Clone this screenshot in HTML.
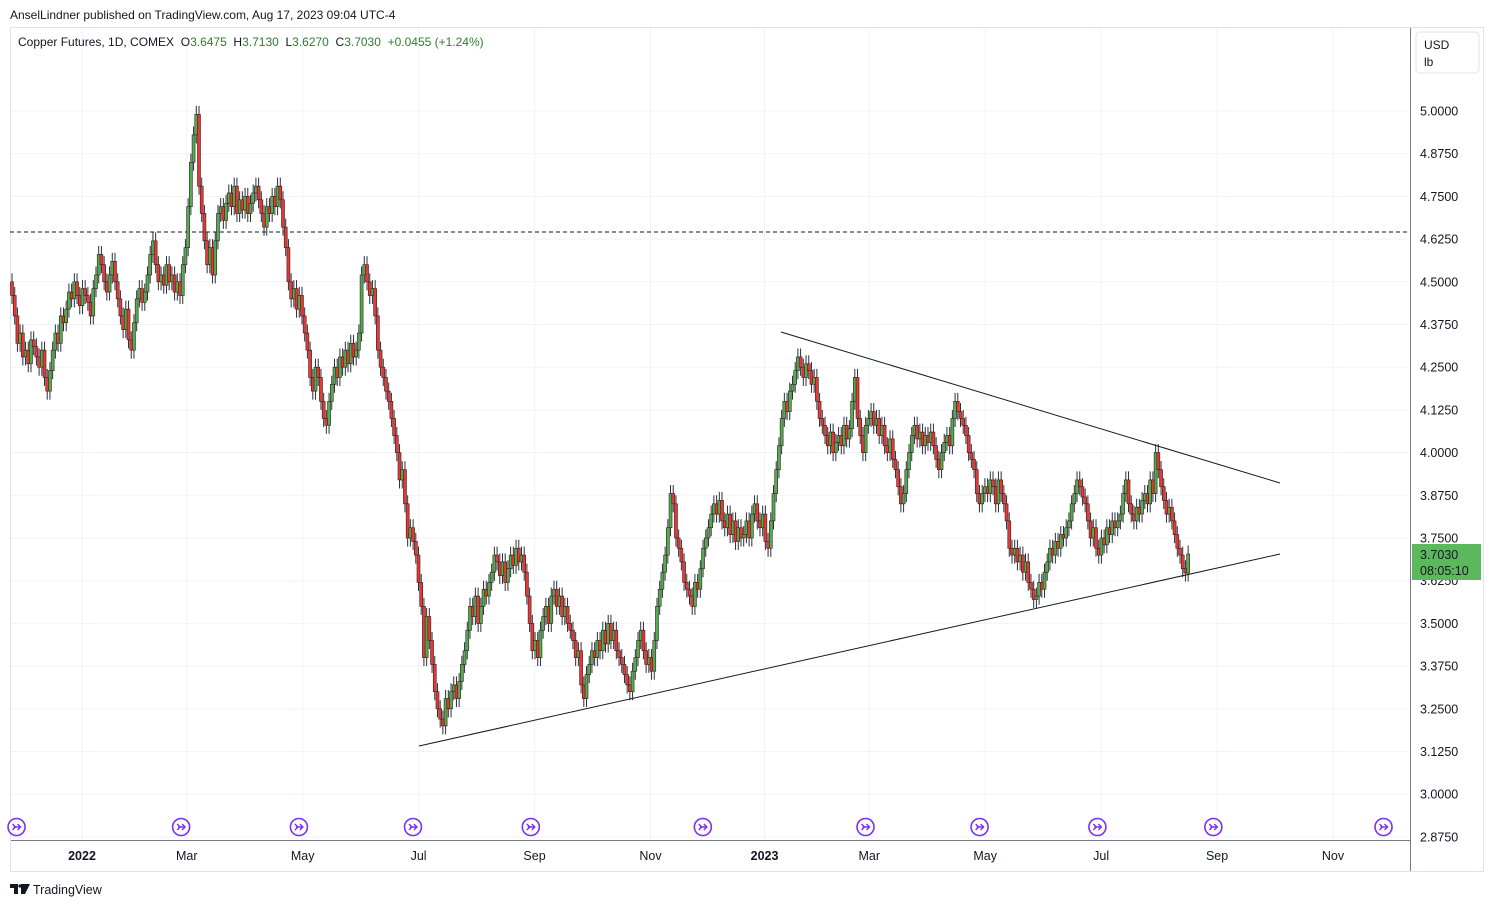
<!DOCTYPE html>
<html><head><meta charset="utf-8"><style>
body{margin:0;background:#fff;font-family:"Liberation Sans",sans-serif;}
svg{display:block}
</style></head><body>
<svg id="chart" width="1494" height="907" viewBox="0 0 1494 907" xmlns="http://www.w3.org/2000/svg">
<rect x="0" y="0" width="1494" height="907" fill="#fff"/>
<text x="10" y="19" font-size="12" fill="#131722">AnselLindner published on TradingView.com, Aug 17, 2023 09:04 UTC-4</text>
<rect x="10.5" y="27.5" width="1473" height="844" fill="none" stroke="#e0e3eb"/>
<g id="grid"></g>
<line x1="10" y1="232" x2="1410" y2="232" stroke="#131722" stroke-dasharray="4,3"/>
<g id="candles"></g>
<line x1="781" y1="332" x2="1280" y2="483" stroke="#131722" stroke-width="1"/>
<line x1="419" y1="746" x2="1280" y2="554" stroke="#131722" stroke-width="1"/>
<line x1="1410.5" y1="28" x2="1410.5" y2="871" stroke="#787b86"/>
<line x1="11" y1="840.5" x2="1410" y2="840.5" stroke="#787b86"/>
<g id="yaxis"></g>
<g id="xaxis"></g>
<g id="events"></g>
<rect x="1416" y="32" width="63" height="41" rx="4" fill="#fff" stroke="#e0e3eb"/>
<text x="1424" y="49" font-size="12" fill="#131722">USD</text>
<text x="1424" y="66" font-size="12" fill="#131722">lb</text>
<text x="18" y="46" font-size="12" fill="#131722" xml:space="preserve">Copper Futures, 1D, COMEX  O<tspan fill="#2e7d32">3.6475</tspan>  H<tspan fill="#2e7d32">3.7130</tspan>  L<tspan fill="#2e7d32">3.6270</tspan>  C<tspan fill="#2e7d32">3.7030</tspan>  <tspan fill="#2e7d32">+0.0455 (+1.24%)</tspan></text>
<rect x="1412" y="544" width="69" height="36" fill="#5cb85c"/>
<text x="1420" y="559" font-size="12.5" fill="#131722">3.7030</text>
<text x="1420" y="575" font-size="12.5" fill="#131722">08:05:10</text>
<g>
<path d="M10 884 H18 V894 H14 V888 H10 Z M21 884 H30 L25 894 H21 Z" fill="#131722"/>
<circle cx="20" cy="886" r="1.6" fill="#131722"/>
<text x="33" y="894" font-size="12.5" fill="#131722">TradingView</text>
</g>
</svg>
<script>
const closes = [
4.46,4.40,4.32,4.35,4.28,4.30,4.26,4.33,4.31,4.28,
4.25,4.30,4.22,4.18,4.24,4.30,4.35,4.32,4.40,4.38,
4.42,4.47,4.45,4.50,4.46,4.43,4.48,4.46,4.44,4.40,
4.48,4.52,4.58,4.55,4.50,4.47,4.52,4.56,4.50,4.45,
4.40,4.36,4.42,4.33,4.30,4.38,4.45,4.48,4.44,4.47,
4.52,4.58,4.62,4.55,4.50,4.52,4.49,4.55,4.50,4.52,
4.47,4.50,4.46,4.55,4.60,4.72,4.85,4.93,4.99,4.78,
4.70,4.62,4.55,4.60,4.52,4.62,4.70,4.72,4.68,4.73,
4.76,4.72,4.78,4.70,4.74,4.71,4.75,4.70,4.73,4.76,
4.78,4.74,4.70,4.66,4.72,4.70,4.75,4.72,4.78,4.74,
4.66,4.60,4.50,4.45,4.48,4.42,4.46,4.40,4.35,4.30,
4.22,4.18,4.25,4.22,4.15,4.10,4.08,4.15,4.20,4.25,
4.22,4.28,4.25,4.30,4.26,4.32,4.28,4.30,4.35,4.52,
4.55,4.50,4.46,4.48,4.40,4.30,4.25,4.22,4.18,4.15,
4.10,4.05,4.00,3.92,3.95,3.85,3.75,3.78,3.74,3.70,
3.62,3.55,3.40,3.52,3.45,3.38,3.30,3.25,3.22,3.20,
3.28,3.25,3.30,3.32,3.28,3.33,3.38,3.42,3.48,3.55,
3.52,3.58,3.50,3.55,3.60,3.58,3.62,3.65,3.70,3.68,
3.64,3.68,3.62,3.66,3.70,3.67,3.72,3.68,3.70,3.65,
3.58,3.50,3.42,3.45,3.40,3.48,3.52,3.55,3.50,3.58,
3.60,3.55,3.58,3.52,3.55,3.50,3.48,3.45,3.40,3.42,
3.32,3.28,3.35,3.38,3.42,3.40,3.45,3.42,3.48,3.44,
3.50,3.45,3.48,3.42,3.40,3.38,3.35,3.32,3.30,3.36,
3.40,3.45,3.48,3.42,3.38,3.40,3.36,3.45,3.55,3.60,
3.65,3.70,3.78,3.88,3.85,3.75,3.72,3.68,3.62,3.60,
3.58,3.55,3.62,3.60,3.66,3.72,3.75,3.78,3.82,3.85,
3.82,3.86,3.80,3.78,3.82,3.76,3.80,3.74,3.78,3.75,
3.76,3.80,3.75,3.82,3.85,3.80,3.78,3.82,3.74,3.72,
3.80,3.88,3.95,4.02,4.10,4.15,4.12,4.18,4.20,4.24,
4.28,4.25,4.22,4.26,4.24,4.20,4.22,4.15,4.10,4.08,
4.05,4.02,4.06,4.00,4.03,4.05,4.02,4.08,4.04,4.07,
4.15,4.22,4.10,4.05,4.00,4.08,4.10,4.12,4.08,4.10,
4.05,4.08,4.02,4.00,4.04,3.98,3.95,3.90,3.85,3.88,
3.95,4.00,4.05,4.08,4.04,4.06,4.02,4.05,4.03,4.06,
4.02,3.98,3.95,4.00,4.03,4.05,4.02,4.10,4.15,4.12,
4.10,4.08,4.05,4.00,3.98,3.95,3.88,3.85,3.88,3.90,
3.88,3.92,3.90,3.85,3.92,3.88,3.85,3.80,3.72,3.70,
3.72,3.68,3.70,3.65,3.68,3.62,3.60,3.57,3.58,3.62,
3.60,3.65,3.68,3.72,3.70,3.74,3.72,3.76,3.75,3.78,
3.80,3.85,3.88,3.92,3.90,3.87,3.85,3.80,3.75,3.78,
3.72,3.70,3.75,3.73,3.78,3.76,3.80,3.78,3.80,3.82,
3.88,3.92,3.85,3.82,3.80,3.84,3.82,3.86,3.88,3.85,
3.92,3.88,4.00,3.95,3.90,3.86,3.82,3.84,3.80,3.76,
3.72,3.70,3.66,3.6475,3.703
];
const firstOpen = 4.50;
const priceTicks = [5.0,4.875,4.75,4.625,4.5,4.375,4.25,4.125,4.0,3.875,3.75,3.625,3.5,3.375,3.25,3.125,3.0,2.875];
const monthLabels = ["2022","Mar","May","Jul","Sep","Nov","2023","Mar","May","Jul","Sep","Nov"];
const monthDays = [0,56,118,180,242,304,365,421,483,545,607,669]; // axis day offsets from Jan 1 2022
const eventDays = [-35,53,116,177,240,332,419,480,543,605,696]; // marker day offsets

const NS="http://www.w3.org/2000/svg";
function y(p){return 111+(5-p)*341.6;}
function xi(i){return 12+i*2.71;}
function xd(d){return 82+d*1.87;}
function mk(tag,attrs,parent){const e=document.createElementNS(NS,tag);for(const k in attrs)e.setAttribute(k,attrs[k]);parent.appendChild(e);return e;}
const grid=document.getElementById('grid'),yax=document.getElementById('yaxis'),xax=document.getElementById('xaxis'),cg=document.getElementById('candles'),ev=document.getElementById('events');
priceTicks.forEach(p=>{
  const l=mk('line',{x1:11,x2:1410,y1:y(p),y2:y(p),stroke:'#f0f3fa'},grid);
  
  
  const t=mk('text',{x:1420,y:y(p)+4.5,'font-size':12.5,fill:'#131722'},yax);
  t.textContent=p.toFixed(4);
  
  
});
monthDays.forEach((d,k)=>{
  const x=xd(d);
  const l=mk('line',{x1:x,x2:x,y1:28,y2:840,stroke:'#f0f3fa'},grid);
  
  
  const bold=monthLabels[k].length===4;
  const t=mk('text',{x:x,y:860,'font-size':12.5,'text-anchor':'middle',fill:'#131722','font-weight':bold?'bold':'normal'},xax);
  t.textContent=monthLabels[k];
  
  
});
closes.forEach((c,i)=>{
  const o=i===0?firstOpen:closes[i-1];
  const up=c>=o;
  const x=xi(i);
  const hi=Math.max(o,c)+0.025, lo=Math.min(o,c)-0.025;
  const g=mk('g',{},cg);
  
  
  mk('line',{x1:x,x2:x,y1:y(hi),y2:y(lo),stroke:'#2a2e39','stroke-width':1},g);
  const top=y(Math.max(o,c)),h=Math.max(1.5,Math.abs(y(o)-y(c)));
  mk('rect',{x:x-1.5,y:top,width:3,height:h,fill:up?'#4caf50':'#e53935',stroke:'#3a1a1a','stroke-width':0.6},g);
});
eventDays.forEach(d=>{
  const x=xd(d),cy=827;
  const g=mk('g',{},ev);
  
  
  mk('circle',{cx:x,cy:cy,r:8.5,fill:'#fff',stroke:'#7b2ff7','stroke-width':1.6},g);
  mk('path',{d:`M${x-4} ${cy-3} L${x-1} ${cy} L${x-4} ${cy+3} M${x-3} ${cy} H${x+4} M${x+1} ${cy-3} L${x+4} ${cy} L${x+1} ${cy+3}`,fill:'none',stroke:'#7b2ff7','stroke-width':1.4},g);
});
</script>
</body></html>
